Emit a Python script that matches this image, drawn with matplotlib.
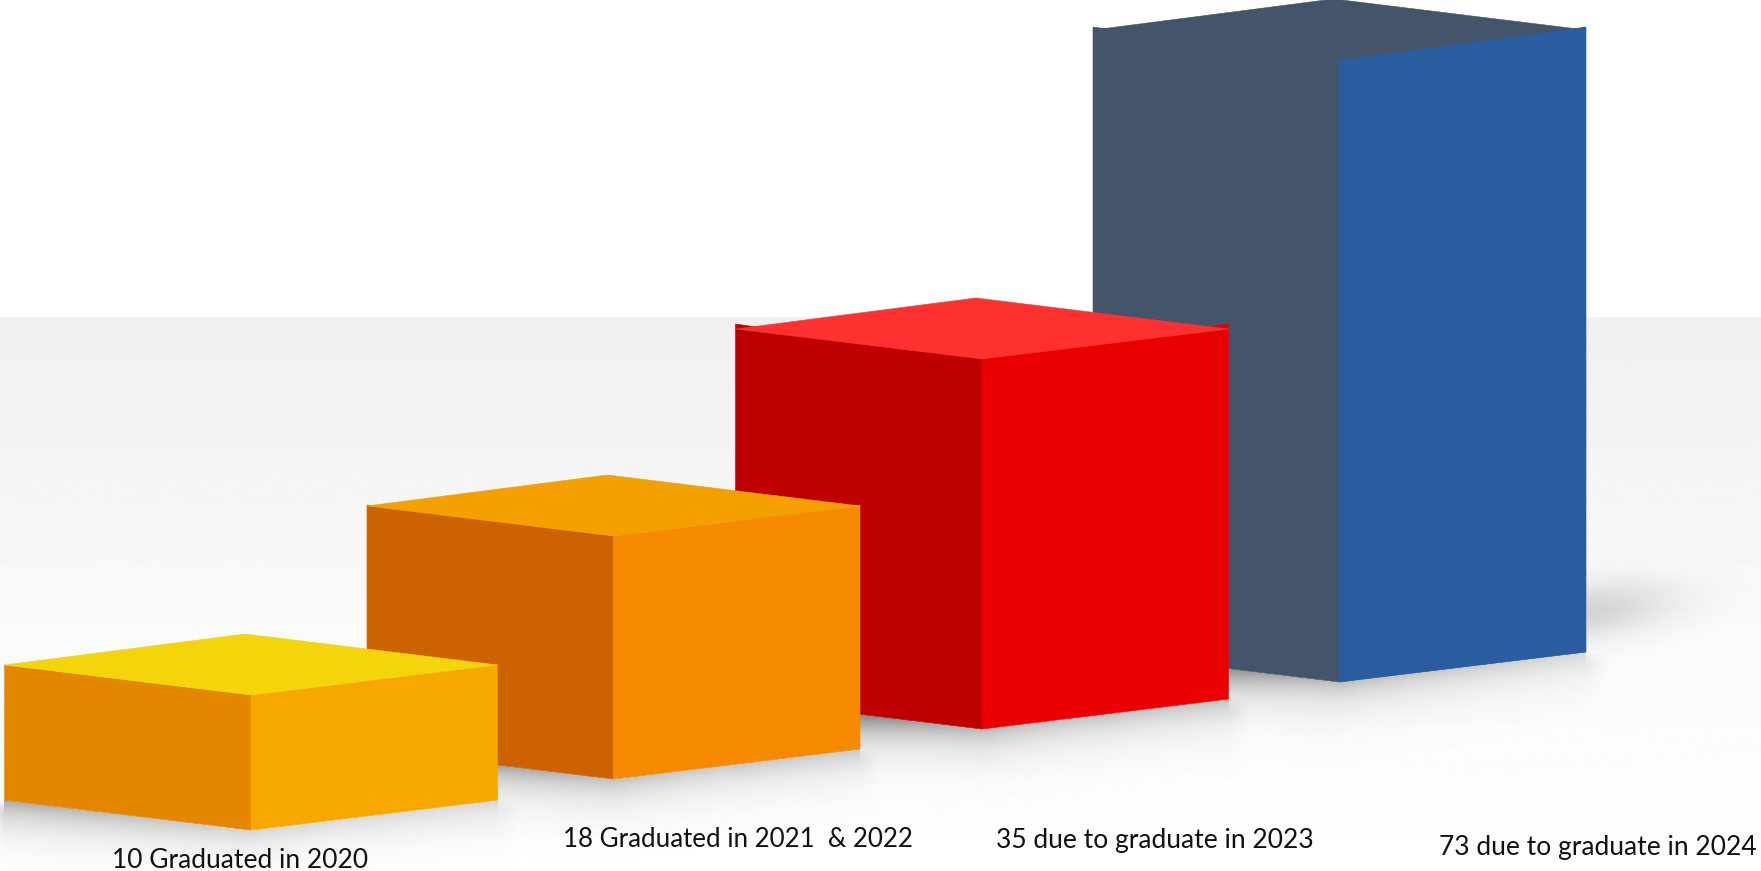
import numpy as np
import matplotlib
matplotlib.use("Agg")
import matplotlib.pyplot as plt
from matplotlib.patches import Polygon

W = 1761
H = 871

# values
LABELS = ["10 Graduated in 2020", "18 Graduated in 2021  & 2022",
          "35 due to graduate in 2023", "73 due to graduate in 2024"]
BLOCK_HEIGHTS = [135, 243, 370, 622]

# layout in pixels
CENTER_X = [251, 613.5, 982, 1339.5]
FRONT_Y = [830, 779, 729, 682]
LABEL_X = [240, 738, 1155, 1598]
LABEL_Y = [860, 839, 840, 847]
LABEL_SIZE = [19, 18.6, 19, 19]
HALF_W = 246.5
DROP = 30
BACK_DX = -6
BACK_DY = -61
EAR = [0, 1, 5, 3]

TOP_COLORS = ["#f4d40a", "#f4a000", "#ff3030", "#44546a"]
LEFT_COLORS = ["#e58600", "#cd6200", "#bf0000", "#44546a"]
RIGHT_COLORS = ["#f6a800", "#f58a00", "#ea0000", "#2a5d9f"]
SHADOW_ALPHA = [0.34, 0.5, 0.55, 0.5]
SPOT_ALPHA = [0.0, 0.12, 0.12, 0.15]

BG_Y = [318, 620, 770, 871]
BG_GRAY = [0.94, 0.98, 0.992, 0.998]


def draw_background(ax):
    y = np.arange(H)
    g = np.interp(y, BG_Y, BG_GRAY)
    g = np.where(y < 318, 1.0, g)
    ax.imshow(g[:, None], cmap="gray", vmin=0, vmax=1, extent=(0, W, H, 0),
              aspect="auto", zorder=0)


def draw_shadow(ax):
    xx, yy = np.meshgrid(np.arange(W) + 0.5, np.arange(H) + 0.5)
    keep = np.ones(xx.shape)
    for cx, fy, sa, spot in zip(CENTER_X, FRONT_Y, SHADOW_ALPHA, SPOT_ALPHA):
        l = cx - HALF_W
        r = cx + HALF_W
        # bottom outline of the block, shadow falls off below it
        edge = fy - DROP * np.clip(np.abs(xx - cx) / HALF_W, 0, 1)
        d = np.clip(yy - edge, 0, None)
        w = np.interp(xx, [l - 14, l, cx, r, r + 22], [0, 1, 0.5, 0.3, 0])
        # past the corners the shadow has no hard upper edge
        onset = np.where((xx < l) | (xx > r), np.clip(d / 14, 0, 1), 1.0)
        a = sa * w * onset * np.exp(-d / 20) * (yy > edge)
        # soft patch on the floor to the right of the block
        sx = (xx - r) / 62
        sy = (yy - (fy - DROP - 40) + 0.12 * (xx - r)) / 20
        a2 = spot * np.exp(-0.5 * (sx ** 2 + sy ** 2)) * (xx > r)
        keep = keep * (1 - a) * (1 - a2)
    rgba = np.zeros(xx.shape + (4,))
    rgba[..., 3] = 1 - keep
    ax.imshow(rgba, extent=(0, W, H, 0), aspect="auto", zorder=1)


def draw_block(ax, i):
    cx = CENTER_X[i]
    fy = FRONT_Y[i]
    top = fy - BLOCK_HEIGHTS[i]
    l = cx - HALF_W
    r = cx + HALF_W
    c = top - DROP
    e = EAR[i]
    left = [(l, c - e), (l + e * 3.5, c - e * 0.5), (cx, top), (cx, fy), (l, fy - DROP)]
    right = [(cx, top), (r - e * 3.5, c - e * 0.5), (r, c - e), (r, fy - DROP), (cx, fy)]
    roof = [(l, c), (cx + BACK_DX, top + BACK_DY), (r, c), (cx, top)]
    z = 2 + (3 - i)
    ax.add_patch(Polygon(left, closed=True, fc=LEFT_COLORS[i], ec=LEFT_COLORS[i], lw=0.4, zorder=z))
    ax.add_patch(Polygon(right, closed=True, fc=RIGHT_COLORS[i], ec=RIGHT_COLORS[i], lw=0.4, zorder=z))
    ax.add_patch(Polygon(roof, closed=True, fc=TOP_COLORS[i], ec=TOP_COLORS[i], lw=0.4, zorder=z))
    # last block: blue front stays on top of the roof edge
    if i == 3:
        ax.add_patch(Polygon(right, closed=True, fc=RIGHT_COLORS[i], ec="none", zorder=z))


plt.rcParams['font.family'] = ['Lato', 'DejaVu Sans']

fig = plt.figure(figsize=(W / 100, H / 100), dpi=100)
ax = fig.add_axes([0, 0, 1, 1])

draw_background(ax)
draw_shadow(ax)
for i in range(len(LABELS)):
    draw_block(ax, i)
for x, y, s, fs in zip(LABEL_X, LABEL_Y, LABELS, LABEL_SIZE):
    ax.text(x, y, s, ha="center", va="center", fontsize=fs, color="#111111", zorder=10)

ax.set_xlim(0, W)
ax.set_ylim(H, 0)
ax.axis("off")

fig.savefig("out.png", dpi=100)
